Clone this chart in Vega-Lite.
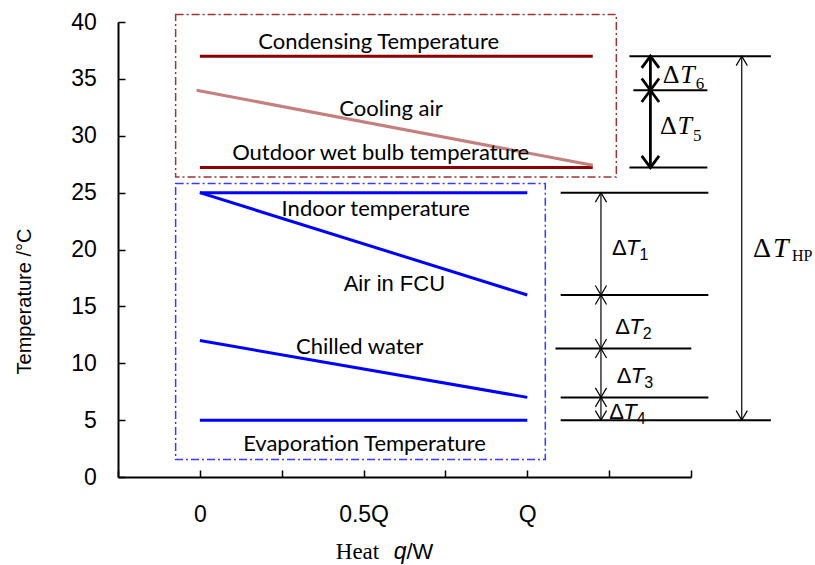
{
  "$schema": "https://vega.github.io/schema/vega-lite/v6.json",
  "width": 573,
  "height": 455,
  "autosize": "none",
  "padding": {"left": 118, "top": 22, "right": 124, "bottom": 88},
  "background": "white",
  "config": {"view": {"stroke": null}, "axis": {"grid": false}},
  "encoding": {
    "x": {
      "field": "x", "type": "quantitative",
      "scale": {"domain": [-0.25, 1.5], "nice": false, "zero": false},
      "axis": {
        "values": [-0.25, 0, 0.25, 0.5, 0.75, 1, 1.25, 1.5],
        "labelExpr": "datum.value == 0 ? '0' : datum.value == 0.5 ? '0.5Q' : datum.value == 1 ? 'Q' : ''",
        "tickSize": -7, "tickWidth": 1.5, "tickColor": "black",
        "domainColor": "black", "domainWidth": 2,
        "labelPadding": 33, "labelFont": "Liberation Sans", "labelFontSize": 23, "labelColor": "black",
        "labelFlush": false, "labelOverlap": false,
        "title": "Heat", "titleFont": "Liberation Serif", "titleFontSize": 23, "titleFontWeight": "normal",
        "titleColor": "black", "titleX": 239, "titleY": 81.6, "titleAlign": "center", "titleBaseline": "alphabetic"
      }
    },
    "y": {
      "field": "y", "type": "quantitative",
      "scale": {"domain": [0, 40], "nice": false},
      "axis": {
        "values": [0, 5, 10, 15, 20, 25, 30, 35, 40],
        "tickSize": -7, "tickWidth": 1.5, "tickColor": "black",
        "domainColor": "black", "domainWidth": 2,
        "labelPadding": 28.6, "labelFont": "Liberation Sans", "labelFontSize": 23, "labelColor": "black",
        "labelFlush": false, "labelOverlap": false,
        "title": "Temperature /°C", "titleFont": "Liberation Sans", "titleFontSize": 20, "titleFontWeight": "normal",
        "titleColor": "black", "titleX": -94, "titleY": 279, "titleAlign": "center", "titleBaseline": "middle", "titleAngle": -90
      }
    }
  },
  "resolve": {"scale": {"shape": "independent", "size": "independent"}},
  "layer": [
    {
      "data": {"values": [
        {"box": "condenser side", "x": -0.074, "x2": 1.272, "y": 40.65, "y2": 26.37},
        {"box": "evaporator side", "x": -0.074, "x2": 1.055, "y": 25.8, "y2": 1.53}
      ]},
      "mark": {"type": "rect", "filled": false, "fill": null, "strokeDash": [8, 3, 2, 3], "strokeWidth": 1.5},
      "encoding": {
        "x2": {"field": "x2"}, "y2": {"field": "y2"},
        "stroke": {"field": "box", "type": "nominal", "scale": {"domain": ["condenser side", "evaporator side"], "range": ["#9e3535", "#3a3aff"]}, "legend": null}
      }
    },
    {
      "data": {"values": [
        {"s": "Condensing Temperature", "x": 0, "y": 37},
        {"s": "Condensing Temperature", "x": 1.2, "y": 37},
        {"s": "Outdoor wet bulb temperature", "x": 0, "y": 27.2},
        {"s": "Outdoor wet bulb temperature", "x": 1.2, "y": 27.2},
        {"s": "Cooling air", "x": -0.01, "y": 34},
        {"s": "Cooling air", "x": 1.2, "y": 27.4},
        {"s": "Indoor temperature", "x": 0, "y": 25},
        {"s": "Indoor temperature", "x": 1, "y": 25},
        {"s": "Air in FCU", "x": 0, "y": 25},
        {"s": "Air in FCU", "x": 1, "y": 16},
        {"s": "Chilled water", "x": 0, "y": 12},
        {"s": "Chilled water", "x": 1, "y": 7},
        {"s": "Evaporation Temperature", "x": 0, "y": 5},
        {"s": "Evaporation Temperature", "x": 1, "y": 5}
      ]},
      "mark": {"type": "line", "strokeWidth": 3},
      "encoding": {
        "color": {"field": "s", "type": "nominal", "legend": null,
          "scale": {"domain": ["Condensing Temperature", "Outdoor wet bulb temperature", "Cooling air", "Indoor temperature", "Air in FCU", "Chilled water", "Evaporation Temperature"],
                    "range": ["#8b0000", "#8b0000", "#c47f7f", "#0000ff", "#0000ff", "#0000ff", "#0000ff"]}}
      }
    },
    {
      "data": {"values": [
        {"x": 1.312, "x2": 1.744, "y": 37},
        {"x": 1.324, "x2": 1.55, "y": 34},
        {"x": 1.312, "x2": 1.55, "y": 27.2},
        {"x": 1.102, "x2": 1.553, "y": 25},
        {"x": 1.102, "x2": 1.553, "y": 16},
        {"x": 1.086, "x2": 1.501, "y": 11.3},
        {"x": 1.102, "x2": 1.553, "y": 7},
        {"x": 1.102, "x2": 1.744, "y": 5}
      ]},
      "mark": {"type": "rule", "color": "black", "strokeWidth": 2},
      "encoding": {"x2": {"field": "x2"}}
    },
    {
      "data": {"values": [
        {"x": 1.376, "y": 37, "y2": 34},
        {"x": 1.376, "y": 34, "y2": 27.2}
      ]},
      "mark": {"type": "rule", "color": "black", "strokeWidth": 2.8},
      "encoding": {"y2": {"field": "y2"}}
    },
    {
      "data": {"values": [
        {"x": 1.225, "y": 25, "y2": 16},
        {"x": 1.225, "y": 16, "y2": 11.3},
        {"x": 1.225, "y": 11.3, "y2": 7},
        {"x": 1.225, "y": 7, "y2": 5},
        {"x": 1.655, "y": 37, "y2": 5}
      ]},
      "mark": {"type": "rule", "color": "black", "strokeWidth": 1.2},
      "encoding": {"y2": {"field": "y2"}}
    },
    {
      "data": {"values": [
        {"x": 1.376, "y": 37, "dir": "up"},
        {"x": 1.376, "y": 34, "dir": "down"},
        {"x": 1.376, "y": 34, "dir": "up"},
        {"x": 1.376, "y": 27.2, "dir": "down"}
      ]},
      "mark": {"type": "point", "filled": false, "color": "black", "opacity": 1, "strokeWidth": 2.8, "size": 300},
      "encoding": {
        "shape": {"field": "dir", "type": "nominal", "legend": null,
          "scale": {"domain": ["up", "down"], "range": ["M-1,1.36L0,0L1,1.36", "M-1,-1.36L0,0L1,-1.36"]}}
      }
    },
    {
      "data": {"values": [
        {"x": 1.225, "y": 25, "dir": "up"},
        {"x": 1.225, "y": 16, "dir": "down"},
        {"x": 1.225, "y": 16, "dir": "up"},
        {"x": 1.225, "y": 11.3, "dir": "down"},
        {"x": 1.225, "y": 11.3, "dir": "up"},
        {"x": 1.225, "y": 7, "dir": "down"},
        {"x": 1.225, "y": 7, "dir": "up"},
        {"x": 1.225, "y": 5, "dir": "down"},
        {"x": 1.655, "y": 37, "dir": "up"},
        {"x": 1.655, "y": 5, "dir": "down"}
      ]},
      "mark": {"type": "point", "filled": false, "color": "black", "opacity": 1, "strokeWidth": 1.2, "size": 125},
      "encoding": {
        "shape": {"field": "dir", "type": "nominal", "legend": null,
          "scale": {"domain": ["up", "down"], "range": ["M-1,1.7L0,0L1,1.7", "M-1,-1.7L0,0L1,-1.7"]}}
      }
    },
    {
      "data": {"values": [
        {"x": 0.546, "y": 37.66, "t": "Condensing Temperature"},
        {"x": 0.584, "y": 31.71, "t": "Cooling air"},
        {"x": 0.552, "y": 27.84, "t": "Outdoor wet bulb temperature"},
        {"x": 0.537, "y": 22.95, "t": "Indoor temperature"},
        {"x": 0.488, "y": 10.79, "t": "Chilled water"},
        {"x": 0.503, "y": 2.29, "t": "Evaporation Temperature"}
      ]},
      "mark": {"type": "text", "font": "Lato", "fontSize": 22, "align": "center", "baseline": "alphabetic", "color": "black"},
      "encoding": {"text": {"field": "t"}}
    },
    {
      "data": {"values": [{"x": 0.594, "y": 16.35, "t": "Air in FCU"}]},
      "mark": {"type": "text", "font": "Liberation Sans", "fontSize": 22, "align": "center", "baseline": "alphabetic", "color": "black"},
      "encoding": {"text": {"field": "t"}}
    },
    {
      "data": {"name": "sansDelta", "values": [
        {"x": 1.259, "y": 19.49, "sub": "1"},
        {"x": 1.269, "y": 12.55, "sub": "2"},
        {"x": 1.273, "y": 8.3, "sub": "3"},
        {"x": 1.25, "y": 5.13, "sub": "4"}
      ]},
      "mark": {"type": "text", "text": "Δ", "font": "Liberation Sans", "fontSize": 22, "align": "left", "baseline": "alphabetic", "color": "black"}
    },
    {
      "data": {"name": "sansDelta"},
      "mark": {"type": "text", "text": "T", "font": "Liberation Sans", "fontStyle": "italic", "fontSize": 22, "dx": 14, "align": "left", "baseline": "alphabetic", "color": "black"}
    },
    {
      "data": {"name": "sansDelta"},
      "mark": {"type": "text", "font": "Liberation Sans", "fontSize": 16, "dx": 27.5, "dy": 5, "align": "left", "baseline": "alphabetic", "color": "black"},
      "encoding": {"text": {"field": "sub"}}
    },
    {
      "data": {"name": "serifDelta", "values": [
        {"x": 1.414, "y": 34.64, "sub": "6"},
        {"x": 1.405, "y": 30.15, "sub": "5"}
      ]},
      "mark": {"type": "text", "text": "Δ", "font": "Liberation Serif", "fontSize": 26, "align": "left", "baseline": "alphabetic", "color": "black"}
    },
    {
      "data": {"name": "serifDelta"},
      "mark": {"type": "text", "text": "T", "font": "Liberation Serif", "fontStyle": "italic", "fontSize": 26, "dx": 17.5, "align": "left", "baseline": "alphabetic", "color": "black"}
    },
    {
      "data": {"name": "serifDelta"},
      "mark": {"type": "text", "font": "Liberation Serif", "fontSize": 17, "dx": 33, "dy": 6.5, "align": "left", "baseline": "alphabetic", "color": "black"},
      "encoding": {"text": {"field": "sub"}}
    },
    {
      "data": {"name": "hpDelta", "values": [{"x": 1.689, "y": 19.34, "sub": "HP"}]},
      "mark": {"type": "text", "text": "Δ", "font": "Liberation Serif", "fontSize": 28, "align": "left", "baseline": "alphabetic", "color": "black"}
    },
    {
      "data": {"name": "hpDelta"},
      "mark": {"type": "text", "text": "T", "font": "Liberation Serif", "fontStyle": "italic", "fontSize": 28, "dx": 20, "align": "left", "baseline": "alphabetic", "color": "black"}
    },
    {
      "data": {"name": "hpDelta"},
      "mark": {"type": "text", "font": "Liberation Serif", "fontSize": 16, "dx": 39, "dy": 4, "align": "left", "baseline": "alphabetic", "color": "black"},
      "encoding": {"text": {"field": "sub"}}
    },
    {
      "data": {"values": [{"x": 0.592, "y": -7.17, "t": "q"}]},
      "mark": {"type": "text", "font": "Liberation Sans", "fontStyle": "italic", "fontSize": 23, "align": "left", "baseline": "alphabetic", "color": "black"},
      "encoding": {"text": {"field": "t"}}
    },
    {
      "data": {"values": [{"x": 0.631, "y": -7.17, "t": "/W"}]},
      "mark": {"type": "text", "font": "Liberation Sans", "fontSize": 22, "align": "left", "baseline": "alphabetic", "color": "black"},
      "encoding": {"text": {"field": "t"}}
    }
  ]
}
